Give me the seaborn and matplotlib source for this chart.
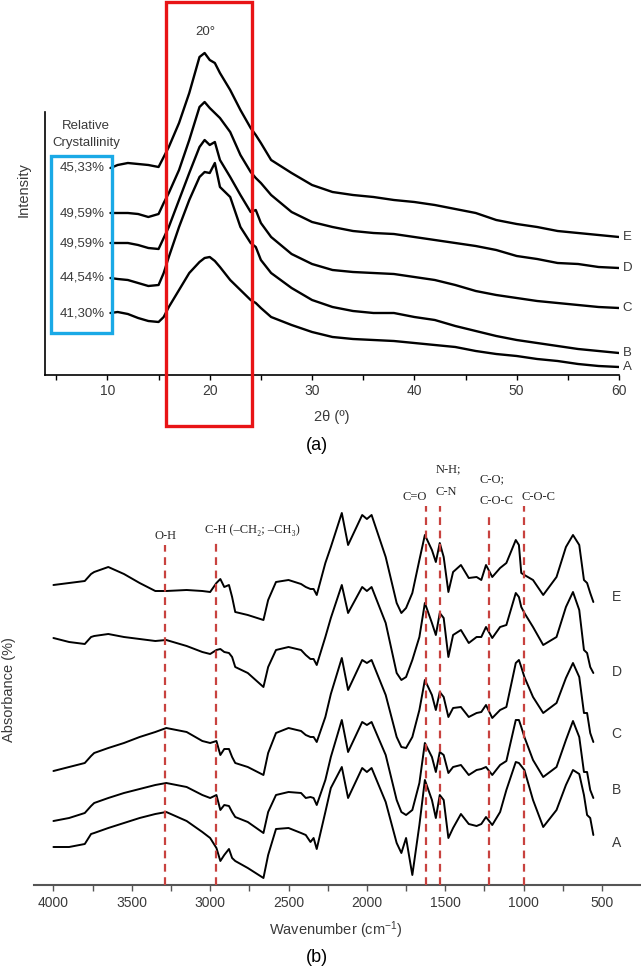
import pandas as pd
import seaborn as sns
import matplotlib.pyplot as plt
from matplotlib.patches import Rectangle
from matplotlib.ticker import MultipleLocator

# ---------------- (a) XRD : intensity (a.u.) ----------------
two_theta = [10.3, 11, 12, 13, 14, 15, 15.5, 16, 17, 18, 19, 19.5, 20, 20.5, 21, 22, 23, 24, 24.5, 25, 26,
             28, 30, 32, 34, 36, 38, 40, 42, 44, 46, 48, 50, 52, 54, 56, 58, 60]
xrd_A = [62, 63, 61, 57, 54, 53, 58, 68, 85, 102, 113, 117, 118, 114, 108, 95, 85, 75, 72, 67, 58,
         50, 43, 38, 36, 35, 34, 32, 30, 28, 24, 21, 19, 16, 14, 11, 9, 8]
xrd_B = [97, 96, 95, 92, 89, 90, 102, 118, 148, 175, 198, 203, 202, 212, 188, 178, 148, 132, 128, 115, 102,
         87, 75, 68, 64, 62, 62, 58, 55, 49, 44, 39, 35, 32, 29, 26, 24, 22]
xrd_C = [132, 132, 132, 130, 127, 126, 137, 148, 175, 202, 228, 235, 230, 233, 215, 198, 180, 163, 165, 152, 138,
         121, 111, 105, 103, 102, 101, 98, 95, 90, 84, 80, 77, 74, 72, 70, 68, 67]
xrd_D = [162, 162, 162, 161, 158, 161, 172, 182, 205, 235, 268, 273, 267, 262, 257, 243, 220, 203, 197, 192, 180,
         163, 153, 148, 144, 142, 141, 138, 135, 132, 129, 125, 119, 116, 112, 111, 108, 107]
xrd_E = [207, 210, 212, 211, 210, 208, 218, 228, 252, 282, 318, 322, 315, 312, 302, 285, 265, 247, 240, 232, 215,
         202, 190, 183, 180, 178, 175, 173, 170, 166, 162, 155, 151, 148, 144, 142, 140, 138]

samples = ["A", "B", "C", "D", "E"]
crystallinity = ["41,30%", "44,54%", "49,59%", "49,59%", "45,33%"]

# ---------------- (b) FTIR : absorbance (a.u.) ----------------
wavenumber = [4000, 3900, 3800, 3760, 3740, 3650, 3550, 3450, 3350, 3280, 3150, 3050, 3000, 2960, 2935,
              2910, 2880, 2860, 2840, 2760, 2660, 2630, 2580, 2500, 2420, 2390, 2360, 2340, 2320, 2265,
              2230, 2160, 2120, 2030, 2000, 1970, 1880, 1810, 1780, 1750, 1710, 1665, 1630, 1585, 1560,
              1535, 1510, 1480, 1450, 1400, 1350, 1300, 1270, 1240, 1200, 1150, 1110, 1050, 1030, 1015,
              995, 940, 875, 790, 730, 685, 645, 615, 595, 575, 555]
ftir_E = [300, 302, 304, 311, 313, 318, 311, 302, 294, 294, 295, 294, 293, 302, 306, 298, 300, 288, 273, 270,
          265, 285, 303, 305, 301, 298, 296, 296, 290, 322, 338,
          372, 340, 370, 366, 370, 328, 282, 272, 277, 292, 325, 350, 335, 323, 342, 328, 293, 313, 320,
          307, 308, 305, 320, 308, 317, 322, 345, 340, 312, 310, 305, 290, 308, 338, 350, 340, 305, 302, 292, 283]
ftir_D = [247, 243, 241, 248, 249, 251, 248, 246, 244, 245, 239, 233, 231, 235, 236, 233, 232, 228, 218, 212,
          198, 218, 235, 238, 235, 230, 226, 226, 220, 248, 267,
          300, 272, 298, 294, 298, 262, 212, 205, 208, 225, 248, 282, 262, 250, 272, 267, 228, 250, 255,
          242, 248, 248, 258, 247, 258, 260, 292, 288, 278, 272, 258, 240, 248, 278, 293, 275, 235, 232, 218, 212]
ftir_C = [114, 118, 122, 129, 132, 137, 142, 148, 153, 157, 153, 144, 142, 144, 130, 136, 136, 128, 122, 118,
          110, 132, 152, 157, 154, 150, 148, 148, 143, 168, 191,
          227, 195, 225, 222, 225, 190, 148, 138, 137, 148, 175, 205, 190, 175, 193, 188, 168, 177, 178,
          168, 172, 173, 180, 167, 175, 178, 222, 225, 218, 208, 188, 172, 182, 207, 222, 208, 172, 172, 152, 143]
ftir_B = [64, 67, 72, 79, 82, 87, 92, 96, 100, 102, 98, 90, 87, 90, 75, 80, 79, 73, 68, 63,
          52, 73, 90, 93, 92, 87, 88, 87, 80, 105, 128,
          165, 133, 163, 160, 163, 130, 85, 73, 70, 75, 102, 142, 128, 113, 133, 130, 112, 118, 120,
          110, 115, 116, 118, 110, 120, 124, 165, 165, 158, 148, 125, 108, 118, 145, 164, 148, 113, 113, 95, 87]
ftir_A = [38, 38, 41, 51, 52, 57, 62, 67, 71, 73, 64, 53, 47, 37, 24, 30, 36, 27, 24, 17,
          7, 30, 56, 57, 52, 50, 43, 47, 36, 73, 97,
          118, 87, 117, 113, 117, 83, 42, 32, 47, 10, 60, 105, 85, 67, 90, 85, 47, 57, 71,
          61, 59, 61, 68, 60, 73, 95, 123, 122, 119, 115, 85, 58, 75, 100, 115, 111, 90, 70, 67, 50]
ftir_label_y = [42, 95, 151, 213, 288]

band_pos = [3286, 2963, 1622, 1531, 1220, 999]
band_top = [340, 342, 379, 379, 372, 379]

# ---------------- style ----------------
sns.set_theme(style="white")
plt.rcParams["font.family"] = ["Liberation Sans", "DejaVu Sans"]
plt.rcParams["mathtext.default"] = "regular"
TXT = "#3a3a3a"
SERIF = ["Liberation Serif", "DejaVu Serif"]

W, H = 641, 969
fig = plt.figure(figsize=(W / 100, H / 100), dpi=100)


def fx(x):
    return x / W


def fy(y):
    return 1 - y / H


ax1 = fig.add_axes([fx(45), fy(375), (619 - 45) / W, (375 - 30) / H])
ax2 = fig.add_axes([fx(34), fy(885), (641 - 34) / W, (885 - 450) / H])
for ax in (ax1, ax2):
    ax.patch.set_alpha(0)

# ---- (a) XRD ----
xrd = pd.DataFrame({"two_theta": two_theta, "A": xrd_A, "B": xrd_B, "C": xrd_C, "D": xrd_D, "E": xrd_E})
xrd_long = xrd.melt(id_vars="two_theta", var_name="sample", value_name="intensity")
sns.lineplot(data=xrd_long, x="two_theta", y="intensity", units="sample", estimator=None,
             color="black", lw=1.7, ax=ax1)

ax1.set_xlim(3.9, 60)
ax1.set_ylim(0, 345)
ax1.set_xlabel("")
ax1.set_ylabel("")
ax1.set_yticks([])
ax1.spines[["top", "right"]].set_visible(False)
ax1.spines["left"].set_bounds(0, 263)
for s in ("left", "bottom"):
    ax1.spines[s].set_color("black")
    ax1.spines[s].set_linewidth(1.2)
ax1.xaxis.set_major_locator(MultipleLocator(10))
ax1.xaxis.set_minor_locator(MultipleLocator(5))
ax1.tick_params(axis="x", which="both", bottom=True, direction="out", length=3.5, width=1,
                color="black", labelsize=10, labelcolor=TXT, pad=3)

for name, lab in zip(samples, crystallinity):
    ax1.text(9.75, xrd[name].iloc[0], lab, ha="right", va="center", fontsize=9.5, color=TXT)
    ax1.text(60.35, xrd[name].iloc[-1], name, ha="left", va="center", fontsize=9.5,
             color=TXT, clip_on=False)

fig.text(fx(86), fy(126), "Relative", ha="center", va="center", fontsize=9.5, color=TXT)
fig.text(fx(86), fy(143), "Crystallinity", ha="center", va="center", fontsize=9.5, color=TXT)
fig.text(fx(205), fy(32), "20°", ha="center", va="center", fontsize=9.5, color=TXT)
fig.text(fx(24), fy(190), "Intensity", ha="center", va="center", rotation=90, fontsize=10.5, color=TXT)
fig.text(fx(332), fy(417), "2θ (º)", ha="center", va="center", fontsize=10.5, color=TXT)
fig.text(fx(317), fy(445), "(a)", ha="center", va="center", fontsize=13, color="black")

fig.patches.append(Rectangle((fx(50.7), fy(333)), (111.7 - 50.7) / W, (333 - 156) / H,
                             transform=fig.transFigure, fill=False, ec="#1AA9E6", lw=2.4, zorder=5))
fig.patches.append(Rectangle((fx(165.7), fy(425.5)), (252.3 - 165.7) / W, (425.5 - 1.7) / H,
                             transform=fig.transFigure, fill=False, ec="#E81416", lw=2.4, zorder=5))

# ---- (b) FTIR ----
ftir = pd.DataFrame({"wavenumber": wavenumber, "A": ftir_A, "B": ftir_B, "C": ftir_C,
                     "D": ftir_D, "E": ftir_E})
ftir_long = ftir.melt(id_vars="wavenumber", var_name="sample", value_name="absorbance")
sns.lineplot(data=ftir_long, x="wavenumber", y="absorbance", units="sample", estimator=None,
             color="black", lw=1.4, ax=ax2)

for w, top in zip(band_pos, band_top):
    ax2.plot([w, w], [0, top], ls=(0, (3.5, 2.5)), color="#C8423F", lw=1.6, zorder=3)

ax2.set_xlim(4124, 251)
ax2.set_ylim(0, 435)
ax2.set_xlabel("")
ax2.set_ylabel("")
ax2.set_yticks([])
ax2.spines[["top", "right", "left"]].set_visible(False)
ax2.spines["bottom"].set_color("#555555")
ax2.spines["bottom"].set_linewidth(1.5)
ax2.xaxis.set_major_locator(MultipleLocator(500))
ax2.xaxis.set_minor_locator(MultipleLocator(250))
ax2.tick_params(axis="x", which="both", bottom=True, direction="out", length=4, width=1,
                color="#555555", labelsize=10, labelcolor=TXT, pad=4)

for name, ly in zip(samples, ftir_label_y):
    ax2.text(408, ly, name, ha="center", va="center", fontsize=10, color=TXT)

ax2.text(3286, 349, "O-H", ha="center", va="center", fontsize=9, family=SERIF)
ax2.text(2728, 355, "C-H (–CH₂; –CH₃)", ha="center", va="center", fontsize=9, family=SERIF)
ax2.text(1698, 388, "C=O", ha="center", va="center", fontsize=9, family=SERIF)
ax2.text(1562, 416, "N-H;", ha="left", va="center", fontsize=9, family=SERIF)
ax2.text(1562, 393, "C-N", ha="left", va="center", fontsize=9, family=SERIF)
ax2.text(1284, 406, "C-O;", ha="left", va="center", fontsize=9, family=SERIF)
ax2.text(1284, 384, "C-O-C", ha="left", va="center", fontsize=9, family=SERIF)
ax2.text(908, 388, "C-O-C", ha="center", va="center", fontsize=9, family=SERIF)

fig.text(fx(9), fy(690), "Absorbance (%)", ha="center", va="center", rotation=90, fontsize=10.5, color=TXT)
fig.text(fx(336), fy(930), "Wavenumber (cm$^{-1}$)", ha="center", va="center", fontsize=10.5, color=TXT)
fig.text(fx(317), fy(958), "(b)", ha="center", va="center", fontsize=13, color="black")

fig.savefig("out.png", dpi=100)
